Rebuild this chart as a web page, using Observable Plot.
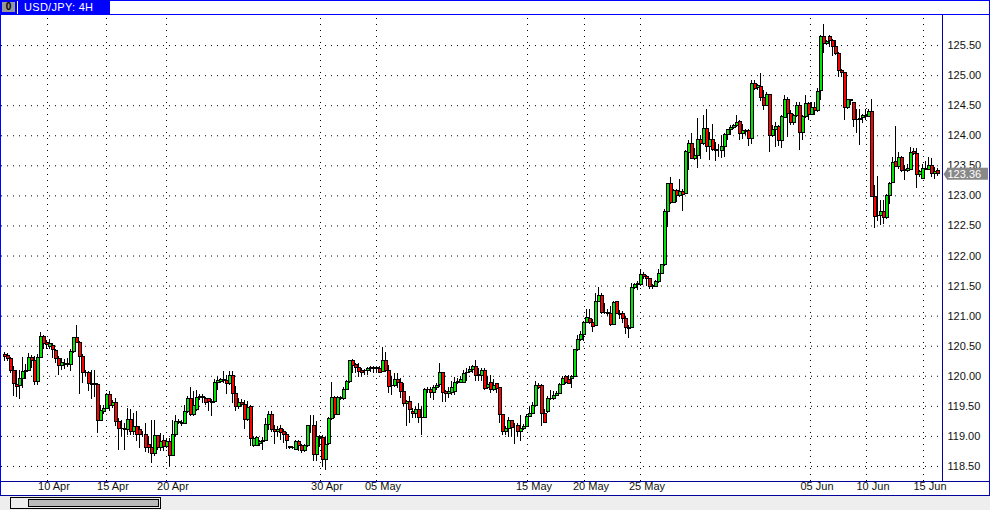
<!DOCTYPE html>
<html><head><meta charset="utf-8">
<script src="https://cdn.jsdelivr.net/npm/d3@7"></script>
<script src="https://cdn.jsdelivr.net/npm/@observablehq/plot@0.6"></script>
<style>
html,body{margin:0;padding:0;background:#fff;overflow:hidden}
#win{position:relative;width:990px;height:510px;background:#fff;overflow:hidden;font-family:"Liberation Sans",sans-serif}
#win svg{position:absolute;left:0;top:0}
.c{position:absolute;display:block}
</style></head><body><div id="win">
<div class="c" style="left:0;top:0;width:990px;height:1px;background:#00f"></div>
<div class="c" style="left:0;top:14px;width:990px;height:1px;background:#00f"></div>
<div class="c" style="left:0;top:0;width:1px;height:496px;background:#00f"></div>
<div class="c" style="left:989px;top:0;width:1px;height:496px;background:#00f"></div>
<div class="c" style="left:0;top:0;width:110px;height:15px;background:#00f"></div>
<div class="c" style="left:17px;top:1px;width:1px;height:13px;background:#fff"></div>
<div class="c" style="left:2px;top:2px;width:13px;height:10px;background:#999;color:#000;font:bold 10px/10px 'Liberation Sans';text-align:center">0</div>
<div class="c" style="left:24px;top:1px;color:#fff;font:11px/13px 'Liberation Sans';letter-spacing:.3px">USD/JPY: 4H</div>
<div class="c" style="left:0;top:481px;width:990px;height:1px;background:#00009c"></div>
<div class="c" style="left:942px;top:15px;width:1px;height:466px;background:#00009c"></div>
<div class="c" style="left:0;top:495px;width:990px;height:1px;background:#00009c"></div>
<div class="c" style="left:0;top:496px;width:990px;height:14px;background:#eee"></div>
<div class="c" style="left:10px;top:497px;width:149px;height:10px;background:#eee;border:1px solid #000"></div>
<div class="c" style="left:28px;top:499px;width:129px;height:6px;background:#bbb;border:1px solid #000"></div>
</div>
<script>
const opens=[120.35,120.33,120.28,120.09,119.85,119.83,119.95,120.07,120.09,120.30,
120.26,119.91,120.30,120.65,120.55,120.49,120.51,120.42,120.28,120.17,
120.18,120.21,120.19,120.41,120.63,120.55,120.32,120.05,120.05,119.87,
119.86,119.86,119.26,119.41,119.45,119.69,119.51,119.55,119.24,119.13,
119.12,119.11,119.28,119.07,119.16,119.10,119.03,119.03,118.86,118.80,
118.71,119.00,118.80,118.93,118.83,118.90,118.68,119.02,119.24,119.23,
119.21,119.40,119.63,119.36,119.44,119.64,119.65,119.63,119.62,119.57,
119.58,119.88,119.91,119.92,119.92,119.87,120.01,119.71,119.49,119.55,
119.53,119.28,119.49,118.84,118.84,118.88,118.91,118.92,119.19,119.36,
119.11,119.07,119.12,119.07,119.03,118.82,118.81,118.78,118.91,118.84,
118.76,118.84,119.17,119.18,118.69,118.99,118.98,118.61,118.87,119.29,
119.64,119.36,119.64,119.62,119.77,119.90,120.26,120.19,120.14,120.09,
120.08,120.08,120.12,120.13,120.13,120.12,120.07,120.26,120.09,119.84,
119.84,119.94,119.89,119.74,119.54,119.57,119.41,119.38,119.44,119.31,
119.31,119.78,119.78,119.73,119.81,119.85,120.06,119.74,119.71,119.72,
119.74,119.88,119.89,119.89,120.05,120.07,120.11,120.16,120.02,120.01,
120.09,119.80,119.88,119.77,119.87,119.80,119.35,119.08,119.13,119.25,
119.18,119.18,119.08,119.12,119.16,119.33,119.37,119.50,119.83,119.83,
119.38,119.40,119.63,119.62,119.67,119.70,119.85,119.98,119.94,119.95,
119.99,120.43,120.60,120.68,120.88,120.96,120.89,120.83,121.23,121.33,
121.06,121.05,121.03,120.85,121.23,121.04,121.03,120.95,120.81,120.80,
121.47,121.51,121.51,121.68,121.65,121.62,121.49,121.49,121.56,121.70,
121.85,122.74,123.20,122.89,123.08,123.00,123.07,123.03,123.72,123.86,
123.62,123.66,123.93,123.86,124.12,123.81,123.93,123.76,123.75,123.75,
123.81,124.02,124.10,124.13,124.16,124.23,124.03,124.08,124.08,123.94,
124.86,124.79,124.81,124.63,124.50,124.68,124.00,124.10,124.15,123.92,
124.29,124.59,124.36,124.22,124.33,124.49,124.04,124.32,124.52,124.34,
124.46,124.41,124.75,125.65,125.52,125.65,125.58,125.47,125.36,125.08,
125.04,124.46,124.60,124.54,124.27,124.27,124.30,124.32,124.32,124.40,
122.98,122.66,122.66,122.74,122.64,123.00,123.21,123.57,123.48,123.63,
123.43,123.42,123.43,123.73,123.69,123.34,123.28,123.44,123.43,123.49,
123.37,123.41];
const highs=[120.39,120.38,120.32,120.16,120.10,120.10,120.31,120.19,120.38,120.34,
120.33,120.36,120.73,120.67,120.59,120.61,120.55,120.44,120.33,120.30,
120.28,120.30,120.44,120.63,120.84,120.58,120.36,120.10,120.08,120.10,
120.10,119.88,119.52,119.52,119.72,119.74,119.60,119.63,119.30,119.27,
119.22,119.47,119.44,119.38,119.41,119.16,119.08,119.22,119.00,119.27,
119.27,119.02,119.05,119.02,118.97,118.97,119.27,119.34,119.28,119.27,
119.52,119.66,119.81,119.74,119.77,119.69,119.69,119.65,119.63,119.61,
119.95,119.99,119.97,120.08,120.02,120.08,120.08,119.83,119.63,119.61,
119.59,119.58,119.52,118.99,119.00,118.93,118.99,119.29,119.42,119.42,
119.18,119.17,119.18,119.11,119.06,118.83,118.83,118.94,118.94,118.86,
118.86,119.18,119.35,119.35,119.24,119.02,119.02,118.99,119.32,119.89,
119.67,119.67,119.67,119.82,119.93,120.27,120.28,120.21,120.21,120.13,
120.11,120.14,120.16,120.16,120.14,120.16,120.48,120.39,120.18,119.99,
120.04,120.04,119.96,119.88,119.60,119.66,119.47,119.49,119.54,119.49,
119.79,119.82,119.82,119.85,119.88,120.21,120.07,119.77,119.82,119.91,
119.98,119.96,120.00,120.10,120.13,120.16,120.18,120.26,120.13,120.13,
120.13,119.99,120.02,119.94,119.88,119.82,119.36,119.16,119.32,119.27,
119.22,119.22,119.34,119.19,119.36,119.49,119.56,119.91,119.88,119.86,
119.44,119.66,119.76,119.75,119.75,119.88,119.99,120.02,120.02,120.02,
120.45,120.67,120.74,120.91,121.11,121.11,120.94,121.38,121.47,121.38,
121.21,121.11,121.16,121.24,121.24,121.10,121.08,120.99,120.84,121.55,
121.55,121.58,121.78,121.72,121.67,121.63,121.52,121.60,121.77,121.85,
122.78,123.19,123.31,123.11,123.11,123.28,123.11,123.75,123.92,124.04,
123.78,124.28,124.00,124.34,124.44,124.06,124.19,123.89,123.86,124.00,
124.03,124.11,124.17,124.19,124.33,124.26,124.19,124.11,124.11,124.92,
124.92,124.86,125.04,124.75,124.72,124.69,124.17,124.22,124.17,124.33,
124.67,124.64,124.42,124.36,124.56,124.56,124.33,124.67,124.56,124.56,
124.56,124.78,125.67,125.85,125.58,125.67,125.60,125.58,125.39,125.11,
125.05,124.60,124.61,124.56,124.43,124.43,124.36,124.43,124.44,124.61,
123.17,123.33,122.92,122.92,123.03,123.22,123.64,124.15,123.72,123.65,
123.50,123.53,123.81,123.78,123.78,123.42,123.53,123.58,123.64,123.63,
123.47,123.45];
const lows=[120.24,120.24,120.05,119.67,119.65,119.61,119.80,119.94,120.08,120.13,
119.85,119.84,120.30,120.45,120.44,120.44,120.30,120.22,120.02,120.10,
120.12,120.15,120.08,120.38,120.55,119.69,119.88,119.99,119.74,119.61,
119.65,119.05,119.25,119.36,119.44,119.41,119.47,119.16,118.76,118.99,
118.77,119.02,119.02,119.02,118.91,118.80,118.99,118.74,118.72,118.55,
118.66,118.77,118.75,118.75,118.80,118.50,118.66,119.00,119.19,119.17,
119.19,119.38,119.33,119.33,119.41,119.60,119.55,119.52,119.41,119.33,
119.55,119.77,119.88,119.88,119.69,119.85,119.55,119.41,119.45,119.49,
119.12,119.24,118.83,118.82,118.83,118.83,118.76,118.91,119.10,119.07,
118.87,118.99,118.94,118.89,118.79,118.78,118.78,118.76,118.75,118.71,
118.74,118.82,119.04,118.59,118.59,118.82,118.49,118.44,118.85,119.27,
119.29,119.35,119.60,119.60,119.76,119.88,120.04,120.04,119.98,119.98,
120.02,120.02,120.07,120.04,120.07,120.04,120.06,120.06,119.71,119.68,
119.82,119.79,119.63,119.49,119.17,119.21,119.29,119.29,119.21,119.02,
119.29,119.72,119.63,119.60,119.77,119.82,119.57,119.56,119.63,119.68,
119.68,119.87,119.88,119.88,119.91,120.04,120.04,119.91,119.91,119.91,
119.77,119.78,119.72,119.75,119.72,119.22,119.01,119.02,118.99,118.99,
118.86,118.99,118.92,119.10,119.15,119.33,119.36,119.50,119.78,119.16,
119.21,119.38,119.60,119.60,119.66,119.69,119.84,119.86,119.86,119.80,
119.98,120.42,120.58,120.58,120.87,120.86,120.73,120.82,121.22,121.03,
121.02,121.00,120.83,120.84,121.02,120.94,120.88,120.69,120.62,120.79,
121.45,121.43,121.49,121.61,121.49,121.44,121.44,121.47,121.55,121.69,
121.83,122.47,122.86,122.87,122.89,122.98,122.74,123.02,123.42,123.60,
123.59,123.46,123.60,123.83,123.72,123.59,123.74,123.57,123.64,123.63,
123.64,123.92,124.00,124.11,124.14,123.92,123.94,124.00,123.82,123.86,
124.75,124.76,124.57,124.42,124.48,123.72,123.97,123.81,123.82,123.78,
124.28,123.97,124.17,124.17,124.31,123.75,123.92,124.29,124.25,124.33,
124.33,124.39,124.58,125.36,125.50,125.47,125.31,125.33,124.97,124.97,
124.25,124.44,124.50,124.14,124.03,123.83,124.20,124.25,124.31,122.97,
122.45,122.58,122.50,122.53,122.61,122.86,123.20,123.47,123.44,123.39,
123.25,123.39,123.42,123.67,123.12,123.31,123.27,123.42,123.42,123.31,
123.28,123.32];
const closes=[120.32,120.28,120.08,119.87,119.82,119.95,120.07,120.09,120.30,120.26,
119.90,120.30,120.65,120.54,120.52,120.54,120.43,120.28,120.17,120.22,
120.21,120.18,120.41,120.63,120.55,120.32,120.05,120.06,119.87,119.86,
119.87,119.26,119.43,119.45,119.69,119.51,119.55,119.24,119.13,119.12,
119.10,119.28,119.07,119.16,119.03,119.02,119.03,118.80,118.80,118.71,
119.00,118.80,118.90,118.83,118.90,118.68,119.02,119.24,119.22,119.21,
119.40,119.63,119.36,119.51,119.64,119.65,119.64,119.56,119.57,119.56,
119.88,119.92,119.93,119.94,119.87,120.01,119.71,119.49,119.55,119.52,
119.28,119.48,118.96,118.96,118.98,118.91,118.92,119.19,119.36,119.11,
119.07,119.11,119.06,119.03,118.93,118.81,118.80,118.91,118.84,118.76,
118.84,119.17,119.17,118.69,118.99,118.98,118.61,118.86,119.29,119.64,
119.36,119.64,119.63,119.78,119.90,120.25,120.17,120.14,120.07,120.06,
120.09,120.12,120.13,120.12,120.12,120.06,120.26,120.09,119.82,119.83,
119.94,119.89,119.74,119.54,119.57,119.44,119.38,119.44,119.31,119.30,
119.78,119.77,119.73,119.81,119.84,120.06,119.73,119.70,119.74,119.81,
119.88,119.91,119.93,120.04,120.06,120.11,120.16,120.01,120.01,120.09,
119.79,119.85,119.77,119.84,119.79,119.35,119.08,119.13,119.25,119.14,
119.18,119.08,119.12,119.16,119.33,119.37,119.50,119.83,119.80,119.38,
119.22,119.63,119.62,119.67,119.70,119.85,119.96,119.88,119.87,119.99,
120.43,120.60,120.68,120.88,120.97,120.88,120.82,121.23,121.33,121.06,
121.05,121.03,120.85,121.22,121.04,121.02,120.95,120.81,120.78,121.47,
121.51,121.53,121.68,121.65,121.62,121.49,121.50,121.56,121.70,121.85,
122.74,123.19,122.89,123.08,123.00,123.06,123.02,123.73,123.86,123.62,
123.66,123.93,123.86,124.11,123.82,123.93,123.76,123.75,123.75,123.81,
124.02,124.10,124.13,124.16,124.21,124.03,124.08,124.06,123.94,124.86,
124.78,124.82,124.63,124.49,124.68,123.99,124.10,124.14,123.91,124.32,
124.59,124.36,124.22,124.33,124.49,124.04,124.32,124.52,124.35,124.46,
124.42,124.73,125.65,125.52,125.56,125.58,125.47,125.36,125.08,125.04,
124.46,124.60,124.57,124.26,124.26,124.28,124.33,124.33,124.40,122.98,
122.65,122.67,122.74,122.64,123.00,123.20,123.54,123.48,123.63,123.42,
123.41,123.45,123.72,123.69,123.34,123.39,123.44,123.43,123.49,123.37,
123.40,123.36];

const priceTicks=[118.5,119,119.5,120,120.5,121,121.5,122,122.5,123,123.5,124,124.5,125,125.5];
const dateTicks=[14,33.67,53.67,105,123.67,174,193,211.67,268.33,287,306];
const dateLabels=["10 Apr","15 Apr","20 Apr","30 Apr","05 May","15 May","20 May","25 May","05 Jun","10 Jun","15 Jun"];
const lastPrice=123.36;
const upColor="#00e600", downColor="#ff0000";

const bars=opens.map((o,i)=>({i,o,h:highs[i],l:lows[i],c:closes[i]}));
const labelOf=new Map(dateTicks.map((t,k)=>[t,dateLabels[k]]));

const chart=Plot.plot({
  width:990,height:510,
  marginLeft:1,marginRight:48,marginTop:15,marginBottom:29,
  style:{background:"transparent",fontFamily:"'Liberation Sans',sans-serif",fontSize:"11px",color:"#111"},
  x:{domain:[-1.333,312.333],range:[1,942],axis:null},
  y:{domain:[118.25,126],range:[481,15],axis:null},
  marks:[
    Plot.gridX(dateTicks,{stroke:"#000",strokeOpacity:1,strokeDasharray:"1 5",y1:118.25,y2:126}),
    Plot.gridY(priceTicks,{stroke:"#000",strokeOpacity:1,strokeDasharray:"1 5"}),
    Plot.axisY({anchor:"right",ticks:priceTicks,tickFormat:d=>d.toFixed(2),tickSize:0,tickPadding:5,label:null,textAnchor:"start"}),
    Plot.axisX({anchor:"bottom",ticks:dateTicks,tickFormat:d=>labelOf.get(d),tickSize:0,tickPadding:1,label:null,dx:6.5}),
    Plot.ruleX(bars,{x:"i",y1:"l",y2:"h",stroke:"#000",strokeWidth:1,dx:-1,shapeRendering:"crispEdges"}),
    Plot.rect(bars,{x1:d=>d.i-0.5,x2:d=>d.i+0.5,y1:d=>Math.min(d.o,d.c),y2:d=>Math.max(d.o,d.c),
      fill:d=>d.c>=d.o?upColor:downColor,stroke:"#000",strokeWidth:1,shapeRendering:"crispEdges"}),
    Plot.rect([lastPrice],{x1:314,x2:327.67,y1:d=>d-0.1,y2:d=>d+0.1,fill:"#888"}),
    Plot.dot([lastPrice],{x:314,y:d=>d,fill:"#888",symbol:{draw(c){c.moveTo(-4,0);c.lineTo(0,-6);c.lineTo(0,6);c.closePath();}},r:5}),
    Plot.text([lastPrice],{x:314,y:d=>d,text:d=>d.toFixed(2),fill:"#fff",textAnchor:"start"})
  ]
});
document.getElementById("win").prepend(chart);
</script></body></html>
